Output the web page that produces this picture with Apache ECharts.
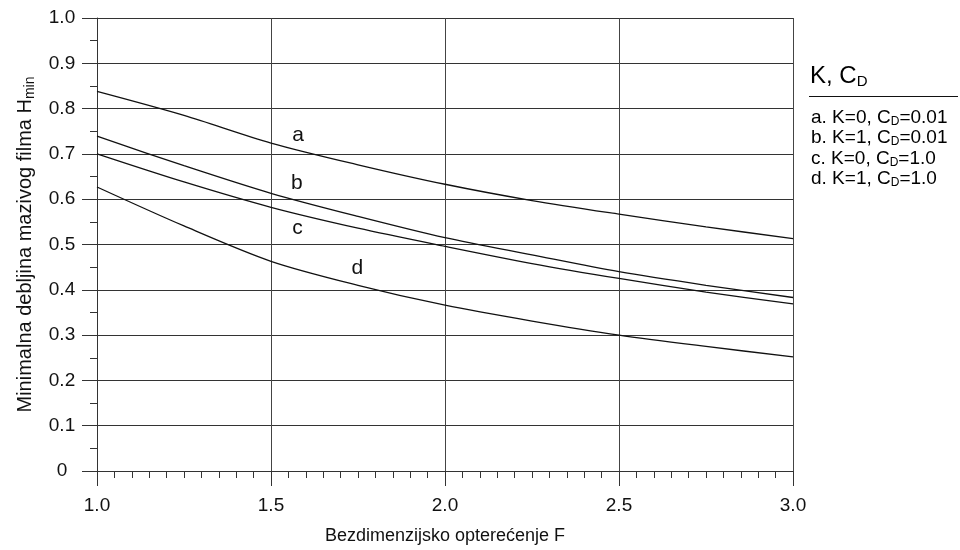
<!DOCTYPE html>
<html><head><meta charset="utf-8">
<script src="https://cdn.jsdelivr.net/npm/echarts@6/dist/echarts.min.js"></script>
<style>html,body{margin:0;padding:0;background:#fff}#c{width:960px;height:550px}</style>
</head><body><div id="c"></div>
<script>
const F = [1.0, 1.25, 1.5, 1.75, 2.0, 2.25, 2.5, 2.75, 3.0];
const curveA = [0.838, 0.785, 0.724, 0.676, 0.633, 0.597, 0.567, 0.539, 0.513];
const curveB = [0.739, 0.674, 0.613, 0.562, 0.515, 0.477, 0.440, 0.410, 0.383];
const curveC = [0.700, 0.638, 0.582, 0.536, 0.496, 0.458, 0.425, 0.395, 0.369];
const curveD = [0.627, 0.541, 0.463, 0.410, 0.366, 0.331, 0.300, 0.275, 0.252];
const curveNames = ['a', 'b', 'c', 'd'];
const labelPos = [[1.578, 0.741], [1.574, 0.635], [1.576, 0.535], [1.748, 0.447]];
const legendTitle = ['K, C', 'D'];
const legendItems = [
  ['a. K=0, C', 'D', '=0.01'],
  ['b. K=1, C', 'D', '=0.01'],
  ['c. K=0, C', 'D', '=1.0'],
  ['d. K=1, C', 'D', '=1.0']
];
const FONT = 'Liberation Sans, Arial, sans-serif';
const chart = echarts.init(document.getElementById('c'));
const all = [curveA, curveB, curveC, curveD];
const series = all.map((vals, i) => ({
  type: 'line',
  data: F.map((f, j) => [f, vals[j]]),
  smooth: 0.3,
  symbol: 'none',
  lineStyle: { color: '#111', width: 1.3 },
  silent: true,
  markPoint: {
    symbol: 'circle', symbolSize: 0,
    data: [{ coord: labelPos[i], label: { show: true, formatter: curveNames[i], color: '#111', fontSize: 21, fontFamily: FONT, position: 'inside' } }]
  }
}));
const sub = (n, s) => ({ n: { fontSize: n, fontFamily: FONT, color: '#111' }, s: { fontSize: s, fontFamily: FONT, color: '#111', padding: [Math.round(s*0.7), 0, 0, 0] } });
const graphics = [
  { type: 'text', left: 810, top: 64, style: { text: '{n|' + legendTitle[0] + '}{s|' + legendTitle[1] + '}', rich: sub(24, 15) } },
  { type: 'line', shape: { x1: 809, y1: 96.5, x2: 958, y2: 96.5 }, style: { stroke: '#111', lineWidth: 1 } }
];
legendItems.forEach((it, i) => {
  graphics.push({ type: 'text', left: 811, top: 108 + i * 20.5, style: { text: '{n|' + it[0] + '}{s|' + it[1] + '}{n|' + it[2] + '}', rich: sub(19, 12) } });
});
chart.setOption({
  animation: false,
  backgroundColor: '#fff',
  grid: { left: 97, right: 167, top: 18, bottom: 78, containLabel: false },
  xAxis: {
    type: 'value', min: 1, max: 3, interval: 0.5,
    name: 'Bezdimenzijsko opterećenje F', nameLocation: 'middle', nameGap: 56,
    nameTextStyle: { fontSize: 18, fontFamily: FONT, color: '#111' },
    axisLine: { show: true, lineStyle: { color: '#333', width: 1 } },
    axisTick: { show: true, length: 15, lineStyle: { color: '#333' } },
    minorTick: { show: true, splitNumber: 10, length: 7, lineStyle: { color: '#333' } },
    axisLabel: { margin: 25, fontSize: 19, fontFamily: FONT, color: '#111', formatter: v => v.toFixed(1) },
    splitLine: { show: true, lineStyle: { color: '#444', width: 1 } }
  },
  yAxis: {
    type: 'value', min: 0, max: 1, interval: 0.1,
    name: '{n|Minimalna debljina mazivog filma H}{s|min}', nameLocation: 'middle', nameGap: 60,
    nameTextStyle: { rich: sub(20, 14) },
    axisLine: { show: true, lineStyle: { color: '#333', width: 1 } },
    axisTick: { show: true, length: 15, lineStyle: { color: '#333' } },
    minorTick: { show: true, splitNumber: 2, length: 7, lineStyle: { color: '#333' } },
    axisLabel: { margin: 35, align: 'center', fontSize: 19, fontFamily: FONT, color: '#111', formatter: v => v === 0 ? '0' : v.toFixed(1) },
    splitLine: { show: true, lineStyle: { color: '#333', width: 1 } }
  },
  graphic: graphics,
  series: series
});
</script></body></html>
